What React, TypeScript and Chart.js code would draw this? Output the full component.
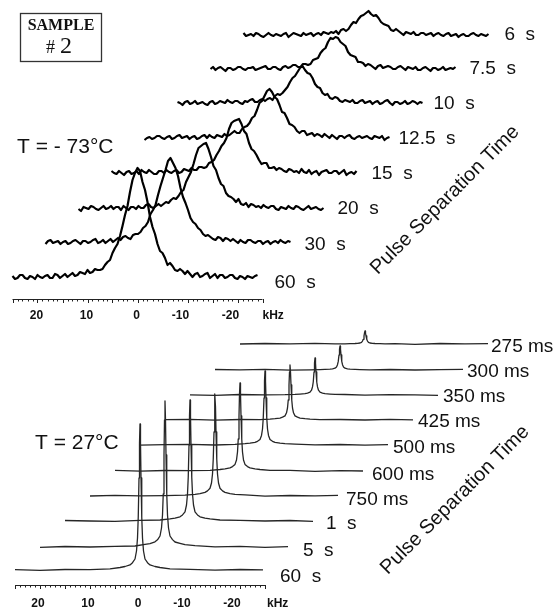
import React, { useEffect, useRef } from 'react';
import { Chart, registerables } from 'chart.js';

Chart.register(...registerables);

// ---------- TOP PANEL (T = -73 °C), spectra sampled every 0.5 kHz ----------
const topKHz = [25, 24.5, 24, 23.5, 23, 22.5, 22, 21.5, 21, 20.5, 20, 19.5, 19, 18.5, 18, 17.5, 17, 16.5, 16, 15.5,
  15, 14.5, 14, 13.5, 13, 12.5, 12, 11.5, 11, 10.5, 10, 9.5, 9, 8.5, 8, 7.5, 7, 6.5, 6, 5.5,
  5, 4.5, 4, 3.5, 3, 2.5, 2, 1.5, 1, 0.5, 0, -0.5, -1, -1.5, -2, -2.5, -3, -3.5, -4, -4.5,
  -5, -5.5, -6, -6.5, -7, -7.5, -8, -8.5, -9, -9.5, -10, -10.5, -11, -11.5, -12, -12.5, -13, -13.5, -14, -14.5,
  -15, -15.5, -16, -16.5, -17, -17.5, -18, -18.5, -19, -19.5, -20, -20.5, -21, -21.5, -22, -22.5, -23, -23.5, -24];
const topTimes = ['60  s', '30  s', '20  s', '15  s', '12.5  s', '10  s', '7.5  s', '6  s'];
const top60s = [2, -1, 0, 3, 3, 0, -1, 2, 1, -1, 3, 1, 0, 2, 3, 0, 0, 4, 3, 0, 2, 4, 1, 3, 5, 2, 3, 6, 5, 4, 8, 5, 6, 9, 8, 8, 9, 13, 16, 18,
  25, 30, 34, 42, 52, 63, 72, 86, 98, 105, 110, 107, 96, 88, 76, 61, 51, 44, 34, 27, 25, 20, 13, 15, 12, 8, 7, 9, 7, 4,
  7, 4, 1, 4, 5, 1, 2, 4, 5, 0, 2, 4, 0, 3, 3, 0, 1, 3, 3, 0, -1, 2, 1, -1, 2, 1, 0, 2, 3];
const top30s = [-1, 2, 3, 0, 1, 2, -1, 1, 2, -1, 0, 2, 3, 1, -1, 2, 2, 0, 1, 3, 4, 0, 1, 3, 0, 2, 4, 1, 3, 5, 3, 6, 7, 5, 4, 8, 9, 9, 11, 15,
  17, 21, 29, 33, 38, 48, 57, 65, 73, 82, 85, 80, 75, 67, 55, 46, 40, 33, 25, 21, 19, 15, 13, 9, 7, 8, 6, 4, 3, 6,
  5, 2, 5, 4, 2, 4, 2, 0, 3, 1, 0, 3, 3, 1, 0, 2, 2, -1, 1, 2, -1, 1, 2, 0, 3, 1, 0, 2, 1];
const top20s = [0, -2, 2, 1, 0, 3, 2, 0, -1, 1, 3, 0, 1, 3, 0, 2, 2, -1, 3, 1, -1, 2, 2, 0, 3, 1, 1, 4, 5, 2, 1, 3, 5, 3, 5, 7, 6, 9, 11, 10,
  13, 17, 19, 27, 32, 37, 45, 54, 61, 63, 65, 66, 60, 52, 43, 39, 31, 25, 23, 16, 13, 12, 10, 7, 10, 5, 4, 6, 2, 5,
  4, 2, 3, 1, 4, 2, 1, 3, 3, 0, -1, 2, 1, 0, 3, 1, 0, 3, 2, 0, -1, 1, 3, 0, 1, 2, 0, -1, 1];
const top15s = [2, 0, -1, 2, 0, -2, 1, 2, -1, 0, 2, -1, 3, 1, 0, 3, 1, -1, -1, 2, 2, 0, 3, 1, 0, 2, 3, 0, 1, 4, 3, 2, 5, 3, 3, 6, 6, 5, 6, 10,
  11, 13, 18, 22, 27, 30, 35, 44, 50, 52, 53, 54, 49, 42, 39, 30, 24, 22, 18, 13, 9, 10, 10, 5, 5, 6, 3, 5, 4, 2,
  1, 4, 3, 1, 2, 0, 4, 1, 0, 3, -1, 1, 2, -2, 1, 2, 3, 0, 0, 2, 2, -1, 1, 3, -2, 0, 1, -1, 2];
const top12_5s = [-2, 0, 1, -1, 0, 2, 2, 0, -1, 1, 2, -1, 0, 2, 3, 0, 1, 2, -1, 1, 2, -1, 0, 2, 3, 0, 3, 1, 0, 3, 2, 1, 4, 2, 3, 5, 7, 5, 5, 9,
  11, 12, 15, 20, 22, 28, 35, 37, 42, 47, 49, 46, 41, 39, 33, 26, 25, 20, 14, 13, 11, 7, 5, 7, 7, 3, 4, 5, 2, 4,
  3, 1, 4, 2, 0, 3, 1, -1, 2, 2, 0, 2, 3, 0, -1, 1, 2, 0, 1, 2, 0, -1, 2, 1, 0, 2, -2, 0, 1];
const top10s = [1, 0, -2, 1, 2, -1, 0, 2, -1, 0, 1, -1, -2, 1, 2, -1, 0, 2, 1, 0, 3, 1, 0, 2, 2, 0, -1, 2, 1, 3, 4, 1, 1, 3, 4, 2, 4, 5, 3, 7,
  9, 8, 10, 13, 16, 21, 25, 27, 31, 35, 37, 33, 30, 29, 25, 19, 16, 15, 10, 8, 9, 5, 4, 6, 5, 2, 1, 3, 2, 1,
  3, 0, 0, 2, 3, 0, 1, 2, -1, 1, 2, -1, 0, 2, 3, 0, -2, 1, 1, -1, 0, 2, -1, 0, 2, 1, -1, 1, 0];
const top7_5s = [0, 2, -1, 1, 2, 0, -2, 1, 1, -1, 0, 2, 2, 0, -1, 1, 1, 2, -1, 0, 1, 2, 3, 0, 0, 2, 2, 0, -1, 2, 3, 1, 2, 4, 4, 2, 2, 5, 5, 4,
  5, 9, 10, 11, 16, 19, 21, 27, 31, 30, 32, 31, 27, 25, 23, 17, 14, 13, 12, 7, 7, 6, 3, 5, 4, 2, 0, 3, 4, 1,
  2, 3, 2, 0, 0, 2, 3, 1, -1, 2, 1, 0, 2, -1, -1, 1, 2, 0, -2, 1, 1, -1, 0, 2, -1, 0, 1, 0, 2];
const top6s = [2, -1, 0, 1, -1, 2, 1, -1, -2, 0, 2, 0, -1, 1, 0, -1, 1, 2, -2, 0, 2, 1, 0, -1, 2, 0, 1, 2, -1, 1, 2, 0, 3, 2, 1, 3, 2, 4, 1, 5,
  6, 4, 6, 10, 13, 12, 16, 19, 20, 22, 24, 21, 19, 20, 17, 13, 11, 10, 9, 5, 4, 6, 4, 2, 0, 3, 2, 1, 3, 0,
  0, 2, 2, 0, 1, 2, -1, 1, 2, 0, -1, 1, 2, -1, 0, 1, -2, 0, 1, -1, -1, 1, 2, 0, -1, 1, 0, -1, 1];
const topSeries = [top60s, top30s, top20s, top15s, top12_5s, top10s, top7_5s, top6s];
// stacked-plot (waterfall) offsets
const topShiftKHz = [0, 6.6, 13.2, 19.8, 26.4, 33.0, 39.6, 46.2];
const topStackOffset = [0, 35, 69, 105, 140, 175, 209, 243];

// ---------- BOTTOM PANEL (T = 27 °C) ----------
const bottomKHz = [25, 20, 15, 10, 6, 4, 3, 2, 1.5, 1, 0.7, 0.5, 0.35, 0.2, 0.1, 0,
  -0.1, -0.2, -0.35, -0.5, -0.7, -1, -1.5, -2, -3, -4, -6, -10, -15, -20, -24.6];
const bottomTimes = ['60  s', '5  s', '1  s', '750 ms', '600 ms', '500 ms', '425 ms', '350 ms', '300 ms', '275 ms'];
const bot60s = [0.4, -0.3, 0.5, 0.4, 1.2, 2.5, 3.5, 5.1, 7.3, 11, 19, 32, 53, 92, 127, 146, 127, 92, 53, 32, 19, 11, 7.3, 5.1, 3.5, 2.5, 1.2, 0.6, -0.2, 0.5, 0.1];
const bot5s = [-0.3, 0.5, 0, 0.7, 1.0, 2.6, 3.4, 5.2, 7.2, 11, 19, 32, 53, 92, 127, 146, 127, 92, 53, 32, 19, 11, 7.4, 5.0, 3.6, 2.3, 1.4, 0.2, 0.6, -0.4, 0.3];
const bot1s = [0.5, 0, -0.4, 0.6, 1.0, 2.1, 2.9, 4.2, 6.1, 9.1, 16, 27, 44, 76, 105, 121, 105, 76, 44, 27, 16, 9.1, 6.1, 4.2, 2.9, 2.1, 1.0, 0.7, 0, 0.5, -0.3];
const bot750ms = [0, 0.6, 0.2, 0.3, 0.8, 1.7, 2.4, 3.6, 5.1, 7.7, 13, 22, 37, 64, 89, 102, 89, 64, 37, 22, 13, 7.7, 5.1, 3.6, 2.4, 1.7, 1.1, -0.2, 0.5, 0.1, 0.6];
const bot600ms = [0.6, -0.2, 0.5, 0.3, 0.7, 1.5, 2.1, 3.1, 4.4, 6.6, 11, 19, 32, 55, 77, 88, 77, 55, 32, 19, 11, 6.6, 4.4, 3.1, 2.1, 1.5, 0.7, 0.6, -0.3, 0.4, 0];
const bot500ms = [-0.2, 0.4, 0.7, 0, 0.6, 1.3, 1.8, 2.6, 3.7, 5.6, 9.6, 16, 27, 47, 64, 74, 64, 47, 27, 16, 9.6, 5.6, 3.7, 2.6, 1.8, 1.3, 0.9, 0.1, 0.5, -0.2, 0.4];
const bot425ms = [0.3, 0.6, -0.2, 0.5, 0.4, 0.9, 1.3, 1.9, 2.8, 4.1, 7.2, 12, 20, 35, 48, 55, 48, 35, 20, 12, 7.2, 4.1, 2.8, 1.9, 1.3, 0.9, 0.4, 0.5, 0, 0.6, 0.2];
const bot350ms = [0.1, -0.3, 0.5, 0.2, 0.3, 0.6, 0.9, 1.3, 1.9, 2.8, 4.8, 8.1, 13, 23, 32, 37, 32, 23, 13, 8.1, 4.8, 2.8, 1.9, 1.3, 0.9, 0.6, 0.5, -0.2, 0.4, 0.1, -0.3];
const bot300ms = [0.5, 0.1, 0.6, -0.2, 0.2, 0.4, 0.6, 0.8, 1.2, 1.8, 3.1, 5.3, 8.6, 15, 21, 24, 21, 15, 8.6, 5.3, 3.1, 1.8, 1.2, 0.8, 0.6, 0.4, 0.2, 0.5, 0, 0.4, 0.6];
const bot275ms = [0, 0.5, 0.2, 0.6, 0.1, 0.2, 0.3, 0.5, 0.7, 1.0, 1.7, 2.9, 4.7, 8.2, 11, 13, 11, 8.2, 4.7, 2.9, 1.7, 1.0, 0.7, 0.5, 0.3, 0.2, 0.4, -0.3, 0.5, 0.1, 0.4];
const bottomSeries = [bot60s, bot5s, bot1s, bot750ms, bot600ms, bot500ms, bot425ms, bot350ms, bot300ms, bot275ms];
const bottomShiftKHz = [0, 5, 10, 15, 20, 25, 30, 35, 40, 45];
const bottomStackOffset = [0, 23, 49, 74, 99, 125, 150, 175, 200, 226];

// axis ticks
const axisTickLabels = [20, 10, 0, -10, -20];
const axisMin = -25;
const axisMax = 25;

// layout (px) for text placement
const topLabelGap = [17, 14, 14, 15, 9, 11, 14, 16];
const topLabelDy = [3, 0, -2, -1, -1, -1, -2, -2];
const bottomLabelGap = [17, 15, 13, 8, 9, 5, 5, 5, 4, 3];
const bottomLabelDy = [5, 2, 1, 2, 2, 1, 0, 0, 0, 1];

const SANS = '"Liberation Sans", Arial, Helvetica, sans-serif';
const SERIF = '"Liberation Serif", "Times New Roman", serif';

const decor = {
  id: 'decor',
  afterDatasetsDraw(chart: any) {
    const c: CanvasRenderingContext2D = chart.ctx;
    const xt = chart.scales.xt, yt = chart.scales.yt, xb = chart.scales.xb, yb = chart.scales.yb;
    c.save();
    c.fillStyle = '#111';
    c.strokeStyle = '#222';

    const drawAxis = (sx: any, yLine: number, yText: number, labelShift: number, kHzDx: number) => {
      c.lineWidth = 1;
      c.beginPath();
      c.moveTo(sx.getPixelForValue(axisMax), yLine + 0.5);
      c.lineTo(sx.getPixelForValue(axisMin), yLine + 0.5);
      c.stroke();
      for (let k = axisMin; k <= axisMax; k++) {
        const px = Math.round(sx.getPixelForValue(k)) + 0.5;
        const len = k % 5 === 0 ? 4 : 2.5;
        c.beginPath();
        c.moveTo(px, yLine);
        c.lineTo(px, yLine + len);
        c.stroke();
      }
      c.font = `bold 12px ${SANS}`;
      c.textAlign = 'center';
      c.textBaseline = 'alphabetic';
      axisTickLabels.forEach((v) => {
        const off = (v < 0 ? -7 : -1) + labelShift;
        c.fillText(String(v), sx.getPixelForValue(v) + off, yText + 4.3);
      });
      c.textAlign = 'left';
      c.fillText('kHz', sx.getPixelForValue(axisMin) + kHzDx, yText + 4.3);
    };
    drawAxis(xt, 299, 315, 0, 0);
    drawAxis(xb, 585, 603, -1, 2);

    // trace labels
    c.font = `19px ${SANS}`;
    c.textAlign = 'left';
    c.textBaseline = 'alphabetic';
    topTimes.forEach((t, i) => {
      const endX = xt.getPixelForValue(topKHz[topKHz.length - 1] - topShiftKHz[i]);
      const y = yt.getPixelForValue(topStackOffset[i]) + topLabelDy[i];
      c.fillText(t, endX + topLabelGap[i], y + 6.8);
    });
    bottomTimes.forEach((t, i) => {
      const endX = xb.getPixelForValue(bottomKHz[bottomKHz.length - 1] - bottomShiftKHz[i]);
      const y = yb.getPixelForValue(bottomStackOffset[i]) + bottomLabelDy[i];
      c.fillText(t, endX + bottomLabelGap[i], y + 6.8);
    });

    // temperatures
    c.font = `21px ${SANS}`;
    c.fillText('T = - 73°C', 17, 152.5);
    c.fillText('T = 27°C', 35, 448.5);

    // rotated axis titles
    c.font = `20px ${SANS}`;
    c.textAlign = 'center';
    c.textBaseline = 'middle';
    [[445, 200], [455, 500]].forEach(([cx, cy]) => {
      c.save();
      c.translate(cx, cy);
      c.rotate(-Math.PI / 4);
      c.fillText('Pulse Separation Time', 0, 0);
      c.restore();
    });

    // sample box
    c.lineWidth = 1.3;
    c.strokeStyle = '#333';
    c.strokeRect(20.5, 13.5, 81, 48);
    c.textBaseline = 'alphabetic';
    c.textAlign = 'center';
    c.font = `bold 16px ${SERIF}`;
    c.fillText('SAMPLE', 61, 30);
    c.textAlign = 'left';
    c.font = `18px ${SERIF}`;
    c.fillText('#', 46, 53);
    c.font = `24px ${SERIF}`;
    c.fillText('2', 60, 53);
    c.restore();
  },
};

export default function App() {
  const ref = useRef<HTMLCanvasElement>(null);
  useEffect(() => {
    document.body.style.margin = '0';
    const canvas = ref.current;
    if (!canvas) return;
    const datasets: any[] = [];
    topSeries.forEach((vals, i) => {
      datasets.push({
        label: topTimes[i],
        data: vals.map((v, j) => ({ x: topKHz[j] - topShiftKHz[i], y: v + topStackOffset[i] })),
        xAxisID: 'xt',
        yAxisID: 'yt',
        borderColor: '#000',
        borderWidth: 2.2,
        borderJoinStyle: 'round',
        pointRadius: 0,
        tension: 0,
        fill: false,
      });
    });
    bottomSeries.forEach((vals, i) => {
      datasets.push({
        label: bottomTimes[i],
        data: vals.map((v, j) => ({ x: bottomKHz[j] - bottomShiftKHz[i], y: v + bottomStackOffset[i] })),
        xAxisID: 'xb',
        yAxisID: 'yb',
        borderColor: '#262626',
        borderWidth: 1.3,
        borderJoinStyle: 'round',
        pointRadius: 0,
        tension: 0,
        fill: false,
      });
    });
    const chart = new Chart(canvas, {
      type: 'line',
      data: { datasets },
      options: {
        animation: false,
        responsive: false,
        events: [],
        layout: { padding: 0 },
        plugins: { legend: { display: false }, tooltip: { enabled: false }, title: { display: false } },
        scales: {
          xt: { type: 'linear', axis: 'x', display: false, reverse: true, min: -84.5, max: 27.5 },
          yt: { type: 'linear', axis: 'y', display: false, min: -333, max: 278 },
          xb: { type: 'linear', axis: 'x', display: false, reverse: true, min: -84, max: 28 },
          yb: { type: 'linear', axis: 'y', display: false, min: -41, max: 570 },
        },
      } as any,
      plugins: [decor],
    });
    return () => chart.destroy();
  }, []);
  return (
    <div style={{ width: 560, height: 611, background: '#fff' }}>
      <style>{'body{margin:0;background:#fff}'}</style>
      <canvas ref={ref} width={560} height={611} style={{ display: 'block' }} />
    </div>
  );
}
